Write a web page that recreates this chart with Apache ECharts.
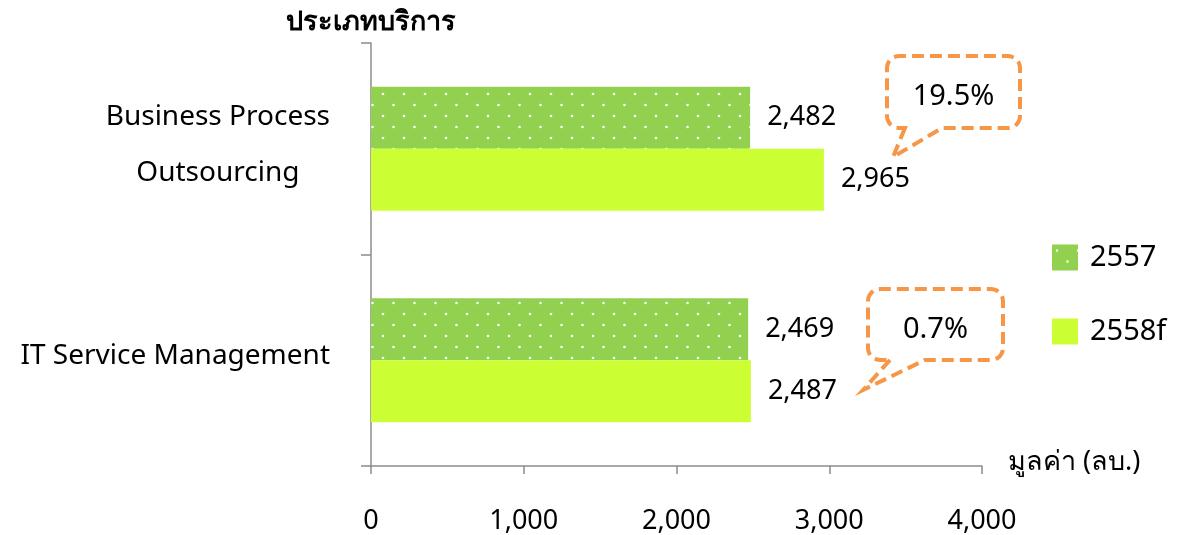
<!DOCTYPE html>
<html>
<head>
<meta charset="utf-8">
<script src="https://cdn.jsdelivr.net/npm/echarts@6/dist/echarts.min.js"></script>
<style>
  html, body { margin: 0; padding: 0; background: #fff; }
  #chart { width: 1177px; height: 535px; }
</style>
</head>
<body>
<div id="chart"></div>
<script>
// Service types (top to bottom) and values in million baht
const categories = ['Business Process\nOutsourcing', 'IT Service Management'];
const seriesNames = ['2557', '2558f'];
const values2557 = [2482, 2469];
const values2558f = [2965, 2487];
const xTicks = [0, 1000, 2000, 3000, 4000];
const yAxisTitle = 'ประเภทบริการ';
const xAxisTitle = 'มูลค่า (ลบ.)';

const FONT = '"Noto Sans", "DejaVu Sans", sans-serif';

// Dotted fill for the 2557 bars
function dotPattern() {
  const c = document.createElement('canvas');
  c.width = 21; c.height = 22;
  const g = c.getContext('2d');
  g.fillStyle = '#92D050';
  g.fillRect(0, 0, 21, 22);
  g.fillStyle = 'rgba(255,255,255,0.95)';
  [[5, 6], [15.5, 17]].forEach(([x, y]) => {
    g.beginPath(); g.arc(x, y, 1.3, 0, Math.PI * 2); g.fill();
  });
  return { image: c, repeat: 'repeat' };
}

// Speech-bubble outline: rounded box with a pointer tail from its bottom edge
function bubblePoints(x0, y0, x1, y1, r, tailL, tailR, tip) {
  const pts = [];
  const arc = (cx, cy, a0, a1) => {
    for (let i = 0; i <= 6; i++) {
      const a = a0 + (a1 - a0) * i / 6;
      pts.push([cx + r * Math.cos(a), cy + r * Math.sin(a)]);
    }
  };
  pts.push([tailL, y1], tip, [tailR, y1]);
  arc(x1 - r, y1 - r, Math.PI / 2, 0);
  arc(x1 - r, y0 + r, 0, -Math.PI / 2);
  arc(x0 + r, y0 + r, -Math.PI / 2, -Math.PI);
  arc(x0 + r, y1 - r, Math.PI, Math.PI / 2);
  return pts;
}

function growth(a, b) {
  return ((b - a) / a * 100).toFixed(1) + '%';
}

function bubble(box, tail, tip, text) {
  const [x0, y0, x1, y1] = box;
  return [
    {
      type: 'polygon',
      shape: { points: bubblePoints(x0, y0, x1, y1, 12, tail[0], tail[1], tip) },
      style: { fill: null, stroke: '#F79646', lineWidth: 4, lineDash: [12, 6] },
      z: 10
    },
    {
      type: 'text',
      x: (x0 + x1) / 2, y: (y0 + y1) / 2 + 5,
      style: {
        text: text, fill: '#000', font: '29px ' + FONT,
        align: 'center', verticalAlign: 'middle'
      },
      z: 11
    }
  ];
}

const chart = echarts.init(document.getElementById('chart'));

const labelStyle = {
  show: true, position: 'right', distance: 17,
  color: '#000', fontFamily: FONT, fontSize: 27,
  formatter: p => p.value.toLocaleString('en-US')
};

chart.setOption({
  animation: false,
  textStyle: { fontFamily: FONT },
  grid: { left: 371, right: 195, top: 43, bottom: 68, containLabel: false },
  legend: {
    orient: 'vertical', left: 1052, top: 243, padding: 0,
    itemWidth: 26, itemHeight: 26, itemGap: 45,
    icon: 'rect',
    textStyle: { color: '#000', fontFamily: FONT, fontSize: 29, padding: [0, 0, 0, 7] },
    data: seriesNames
  },
  xAxis: {
    type: 'value', min: xTicks[0], max: xTicks[xTicks.length - 1], interval: 1000,
    splitLine: { show: false },
    axisLine: { show: true, lineStyle: { color: '#8C8C8C', width: 1.5 } },
    axisTick: { show: true, length: 8, lineStyle: { color: '#8C8C8C', width: 1.5 } },
    axisLabel: {
      margin: 42, color: '#000', fontFamily: FONT, fontSize: 27,
      formatter: v => v.toLocaleString('en-US')
    },
    name: xAxisTitle, nameLocation: 'end', nameGap: 26,
    nameTextStyle: { color: '#000', fontFamily: FONT, fontSize: 27, verticalAlign: 'bottom', padding: [0, 0, -10, 0] }
  },
  yAxis: {
    type: 'category', inverse: true, data: categories,
    axisLine: { show: true, lineStyle: { color: '#8C8C8C', width: 1.5 } },
    axisTick: { show: true, length: 10, lineStyle: { color: '#8C8C8C', width: 1.5 } },
    axisLabel: {
      margin: 41, color: '#000', fontFamily: FONT, fontSize: 28,
      formatter: v => v.split('\n').map(s => '{c|' + s + '}').join('\n'),
      rich: { c: { align: 'center', lineHeight: 56, fontSize: 28, fontFamily: FONT, color: '#000', padding: [0, 0, 8, 0] } }
    },
    name: yAxisTitle, nameLocation: 'start', nameGap: 21,
    nameTextStyle: { color: '#000', fontFamily: FONT, fontSize: 27, fontWeight: 'bold', align: 'center', verticalAlign: 'middle' }
  },
  series: [
    {
      name: seriesNames[0], type: 'bar', data: values2557,
      barWidth: 62, barGap: '0%',
      itemStyle: { color: dotPattern() },
      label: labelStyle
    },
    {
      name: seriesNames[1], type: 'bar', data: values2558f,
      barWidth: 62, barGap: '0%',
      itemStyle: { color: '#CCFF33' },
      label: labelStyle
    }
  ],
  graphic: [
    ...bubble([887, 56, 1020, 128], [905, 942], [893, 157], growth(values2557[0], values2558f[0])),
    ...bubble([868, 289, 1003, 360], [890, 925], [863, 390], growth(values2557[1], values2558f[1]))
  ]
});
</script>
</body>
</html>
